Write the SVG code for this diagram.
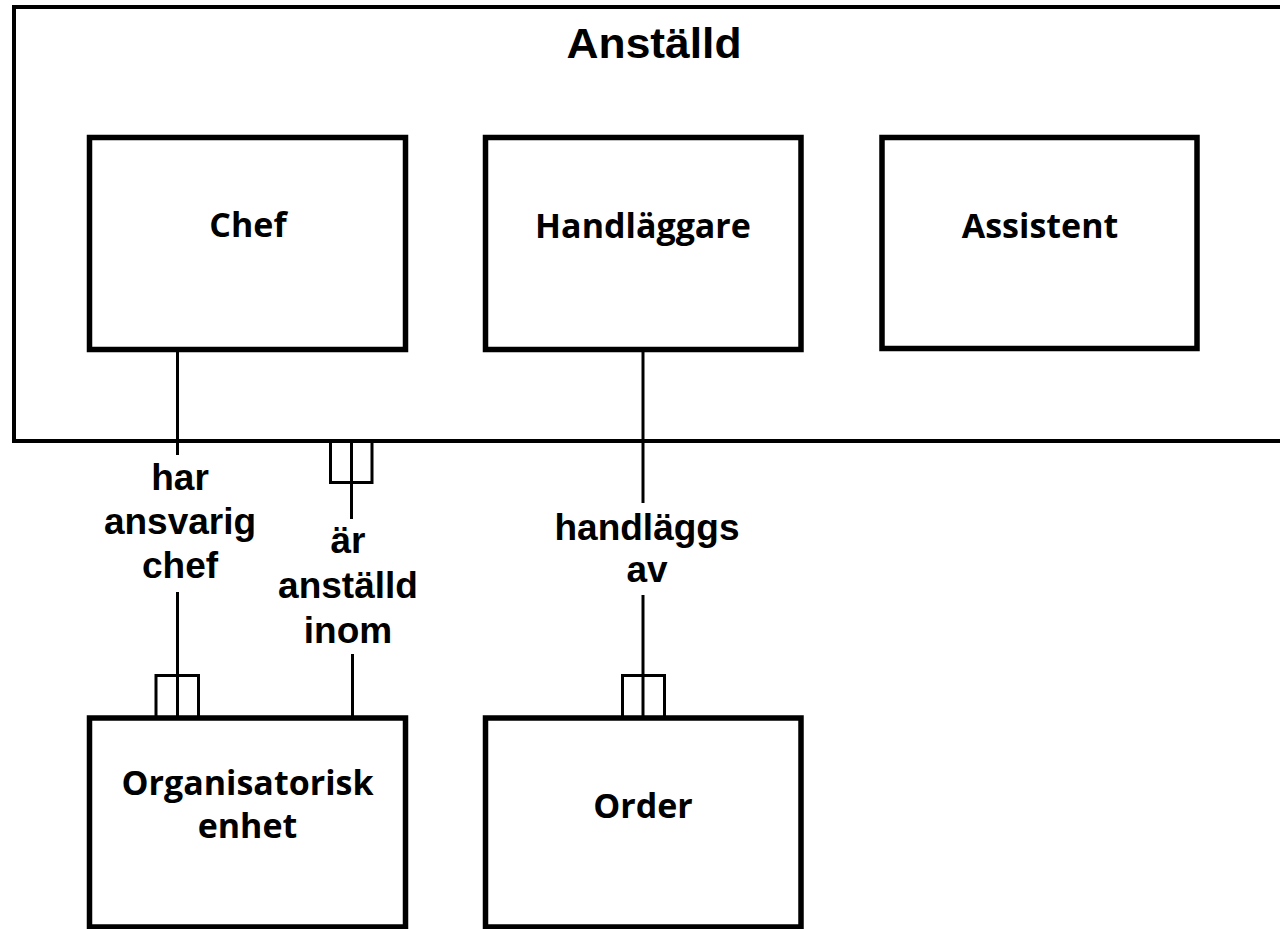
<svg xmlns="http://www.w3.org/2000/svg" width="1280" height="929" viewBox="0 0 1280 929">
<style>
.box{fill:#fff;stroke:#000;stroke-width:5.5}
.outer{fill:#fff;stroke:#000;stroke-width:4}
.lbl{font-family:"Open Sans",sans-serif;font-weight:bold;font-size:34px;text-anchor:middle;fill:#000}
.rel{font-family:"Liberation Sans",Arial,sans-serif;font-weight:bold;font-size:37px;text-anchor:middle;fill:#000}
.ln{fill:none;stroke:#000;stroke-width:3}
</style>
<rect width="1280" height="929" fill="#fff"/>
<g id="anstalld">
<path class="outer" d="M1290,7 H14 V441 H1290"/>
<text class="rel" x="654" y="58" style="font-size:42px" textLength="175" lengthAdjust="spacingAndGlyphs">Anställd</text>
</g>
<g id="chef">
<rect class="box" x="89.5" y="137.5" width="316" height="212"/>
<text class="lbl" x="248" y="237">Chef</text>
</g>
<g id="handlaggare">
<rect class="box" x="485.5" y="137.5" width="315.5" height="212"/>
<text class="lbl" x="643" y="238">Handläggare</text>
</g>
<g id="assistent">
<rect class="box" x="882" y="137.5" width="315" height="211"/>
<text class="lbl" x="1040" y="238">Assistent</text>
</g>
<g id="organisatorisk-enhet">
<rect class="box" x="89.5" y="718" width="316" height="209"/>
<text class="lbl" x="247.5" y="795">Organisatorisk</text>
<text class="lbl" x="247.5" y="838">enhet</text>
</g>
<g id="order">
<rect class="box" x="485.5" y="718" width="315.5" height="209"/>
<text class="lbl" x="643" y="818">Order</text>
</g>
<g id="connectors">
<line class="ln" x1="177.5" y1="350" x2="177.5" y2="455"/>
<line class="ln" x1="177.5" y1="592" x2="177.5" y2="718"/>
<path class="ln" d="M156,718 V675.5 H198.5 V718"/>
<path class="ln" d="M330.5,441 V482.5 H372 V441"/>
<line class="ln" x1="351.5" y1="441" x2="351.5" y2="519"/>
<line class="ln" x1="352.5" y1="654" x2="352.5" y2="718"/>
<line class="ln" x1="643" y1="350" x2="643" y2="503"/>
<line class="ln" x1="643" y1="595" x2="643" y2="718"/>
<path class="ln" d="M622.5,718 V675.5 H664.5 V718"/>
<text class="rel" x="180" y="490">har</text>
<text class="rel" x="180" y="534">ansvarig</text>
<text class="rel" x="180" y="578">chef</text>
<text class="rel" x="348" y="553">är</text>
<text class="rel" x="348" y="598">anställd</text>
<text class="rel" x="348" y="643">inom</text>
<text class="rel" x="647" y="540">handläggs</text>
<text class="rel" x="647" y="582">av</text>
</g>
</svg>
